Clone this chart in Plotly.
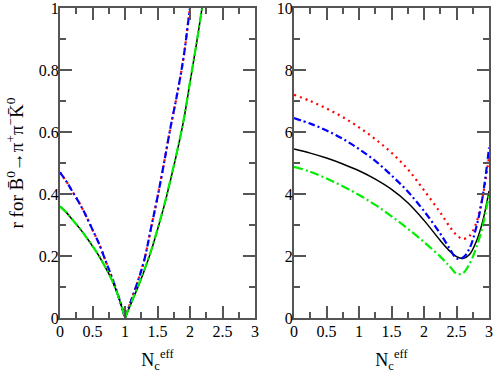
import plotly.graph_objects as go

# ---- Left panel data (x = N_c^eff, y = r) ----
left_x_down = [0, 0.1, 0.2, 0.3, 0.4, 0.5, 0.6, 0.7, 0.8, 0.9, 1.0]
left_black_down = [0.36, 0.34, 0.315, 0.29, 0.262, 0.232, 0.2, 0.163, 0.122, 0.068, 0.0]
left_blue_down = [0.47, 0.44, 0.405, 0.37, 0.33, 0.285, 0.24, 0.185, 0.13, 0.07, 0.0]

left_x_up = [1.0, 1.1, 1.2, 1.3, 1.4, 1.5, 1.6, 1.7, 1.8, 1.9, 2.0, 2.1, 2.2]
left_black_up = [0.0, 0.05, 0.10, 0.155, 0.215, 0.285, 0.36, 0.445, 0.535, 0.635, 0.76, 0.885, 1.02]
left_blue_up = [0.0, 0.06, 0.12, 0.19, 0.29, 0.39, 0.50, 0.615, 0.72, 0.84, 1.0, 1.15, 1.3]
left_green_up = [0.0, 0.052, 0.102, 0.157, 0.217, 0.287, 0.362, 0.447, 0.537, 0.637, 0.762, 0.887, 1.02]

# ---- Right panel data ----
right_x = [0, 0.25, 0.5, 0.75, 1.0, 1.25, 1.5, 1.75, 2.0, 2.25, 2.4, 2.5, 2.6, 2.7, 2.8, 2.9, 3.0]
right_red = [7.2, 7.0, 6.76, 6.48, 6.15, 5.77, 5.33, 4.8, 4.12, 3.4, 2.93, 2.68, 2.55, 2.65, 3.05, 3.9, 5.2]
right_blue = [6.45, 6.27, 6.05, 5.78, 5.45, 5.07, 4.6, 4.08, 3.45, 2.72, 2.22, 1.92, 1.95, 2.25, 2.9, 3.9, 5.5]
right_black = [5.45, 5.32, 5.16, 4.97, 4.75, 4.48, 4.15, 3.72, 3.15, 2.5, 2.15, 1.98, 1.92, 2.05, 2.45, 3.1, 4.1]
right_green = [4.88, 4.72, 4.5, 4.25, 3.97, 3.65, 3.28, 2.88, 2.45, 1.98, 1.65, 1.43, 1.45, 1.75, 2.25, 2.95, 4.0]

x_ticks = [0, 0.5, 1, 1.5, 2, 2.5, 3]
x_tick_text = ["0", "0.5", "1", "1.5", "2", "2.5", "3"]
left_y_ticks = [0, 0.2, 0.4, 0.6, 0.8, 1]
left_y_text = ["0", "0.2", "0.4", "0.6", "0.8", "1"]
right_y_ticks = [0, 2, 4, 6, 8, 10]
right_y_text = ["0", "2", "4", "6", "8", "10"]
y_title = "r for B\u0304<sup>0</sup>\u2192\u03c0<sup>+</sup>\u03c0<sup>\u2212</sup>K\u0304<sup>0</sup>"

RED = "#ff0000"
BLUE = "#0000ff"
GREEN = "#00ee00"
BLACK = "#000000"
DOT = "2px,4px"
DASHDOT = "7px,3px,2px,3px"
LDASHDOT = "9px,3px,2px,3px"

fig = go.Figure()

def add(x, y, color, dash, width, xa, ya):
    fig.add_trace(go.Scatter(x=x, y=y, mode="lines", xaxis=xa, yaxis=ya,
                             line=dict(color=color, dash=dash, width=width, shape="spline", smoothing=1.0),
                             showlegend=False, hoverinfo="skip"))

# left panel: red and blue overlap, green follows black
for xs, ys in [(left_x_down, left_blue_down), (left_x_up, left_blue_up)]:
    add(xs, ys, RED, DOT, 2.2, "x", "y")
    add(xs, ys, BLUE, DASHDOT, 2.2, "x", "y")
add(left_x_down, left_black_down, BLACK, "solid", 1.5, "x", "y")
add(left_x_up, left_black_up, BLACK, "solid", 1.5, "x", "y")
add(left_x_down, left_black_down, GREEN, LDASHDOT, 2.2, "x", "y")
add(left_x_up, left_green_up, GREEN, LDASHDOT, 2.2, "x", "y")

# right panel
add(right_x, right_black, BLACK, "solid", 1.5, "x2", "y2")
add(right_x, right_red, RED, DOT, 2.2, "x2", "y2")
add(right_x, right_blue, BLUE, DASHDOT, 2.2, "x2", "y2")
add(right_x, right_green, GREEN, LDASHDOT, 2.2, "x2", "y2")

FONT = "Liberation Serif"
AXC = "#555555"
common = dict(showline=True, linecolor=AXC, linewidth=2, mirror="allticks",
              ticks="inside", ticklen=12, tickwidth=2, tickcolor=AXC,
              showgrid=False, zeroline=False, automargin=False,
              ticklabeloverflow="allow",
              tickfont=dict(family=FONT, size=16, color="black"))

xcommon = dict(common, range=[0, 3], tickvals=x_ticks, ticktext=x_tick_text,
               ticklabelstandoff=-2,
               minor=dict(dtick=0.25, ticks="inside", ticklen=6, tickwidth=2, tickcolor=AXC),
               title=dict(text="N<sub>c</sub><sup>eff</sup>", font=dict(family=FONT, size=18, color="black"), standoff=14))

fig.update_layout(
    width=495, height=382,
    margin=dict(l=0, r=0, t=0, b=0),
    paper_bgcolor="white", plot_bgcolor="white",
    font=dict(family=FONT, size=16, color="black"),
    xaxis=dict(xcommon, domain=[0.1212, 0.5152], anchor="y"),
    xaxis2=dict(xcommon, domain=[0.594, 0.988], anchor="y2"),
    yaxis=dict(common, range=[0, 1], tickvals=left_y_ticks, ticktext=left_y_text,
               domain=[0.1675, 0.979], anchor="x", ticklabelstandoff=-4,
               minor=dict(dtick=0.1, ticks="inside", ticklen=6, tickwidth=2, tickcolor=AXC)),
    yaxis2=dict(common, range=[0, 10], tickvals=right_y_ticks, ticktext=right_y_text,
                domain=[0.1675, 0.979], anchor="x2", ticklabelstandoff=-4,
                minor=dict(dtick=1, ticks="inside", ticklen=6, tickwidth=2, tickcolor=AXC)),
    annotations=[dict(text=y_title, xref="paper", yref="paper", x=0.031, y=0.573,
                      xanchor="center", yanchor="middle", textangle=-90, showarrow=False,
                      font=dict(family=FONT, size=19, color="black"))],
)

fig.write_html("out.html", config={"displayModeBar": False},
               post_script="document.body.style.margin='0px';")
